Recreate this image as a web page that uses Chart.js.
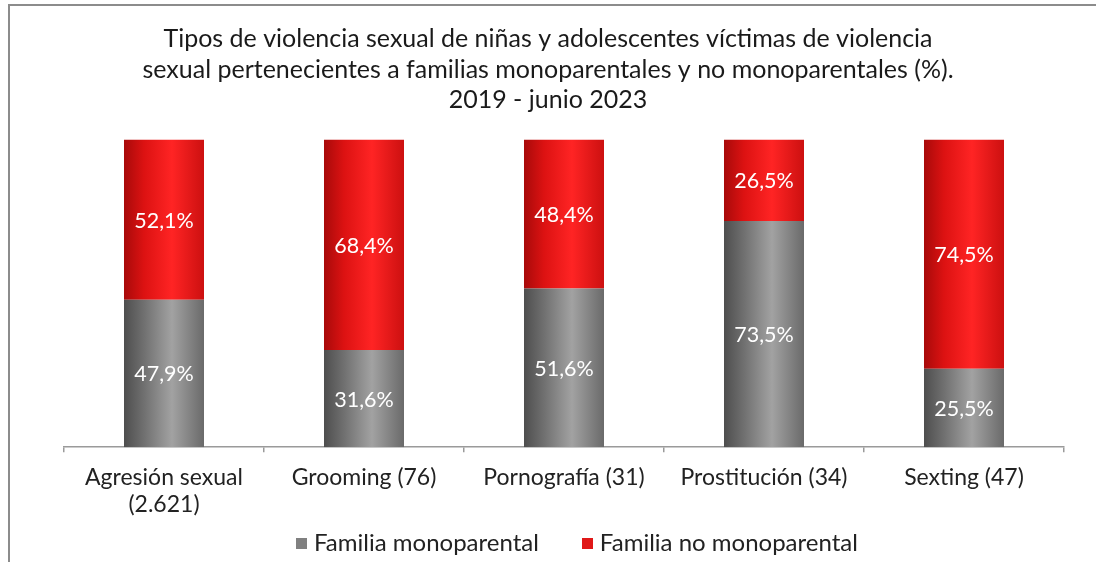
<!DOCTYPE html>
<html>
<head>
<meta charset="utf-8">
<script src="https://cdn.jsdelivr.net/npm/chart.js@4/dist/chart.umd.min.js"></script>
<style>
  html, body { margin: 0; padding: 0; background: #fff; overflow: hidden; }
  #frame { position: absolute; left: 8px; top: 4px; width: 1200px; height: 700px; border: 2px solid #8c8c8c; box-sizing: border-box; }
  #wrap { position: absolute; left: 0; top: 0; width: 1096px; height: 562px; }
  #legend { position: absolute; left: 296px; top: 528px; display: flex; align-items: center;
            font-family: Lato, "Open Sans", sans-serif; font-size: 24px; line-height: 28px; color: #222; }
  #legend .item { display: flex; align-items: center; margin-right: 43px; }
  #legend .box { width: 11px; height: 11px; margin-right: 7px; margin-top: 2px; }
</style>
</head>
<body>
<div id="frame"></div>
<div id="wrap"><canvas id="chart" width="1096" height="562"></canvas></div>
<div id="legend"></div>
<script>
// --- Data ---
const categories = [
    ['Agresión sexual', '(2.621)'],
    'Grooming (76)',
    'Pornografía (31)',
    'Prostitución (34)',
    'Sexting (47)'
];
const monoparental = [47.9, 31.6, 51.6, 73.5, 25.5];
const noMonoparental = [52.1, 68.4, 48.4, 26.5, 74.5];
const titleLines = [
    'Tipos de violencia sexual de niñas y adolescentes víctimas de violencia',
    'sexual pertenecientes a familias monoparentales y no monoparentales (%).',
    '2019 - junio 2023'
];

const FONT = 'Lato, "Open Sans", sans-serif';

// horizontal "cylinder" shading for each bar, placed via the x scale
function barShade(stops, flat) {
    return function (ctx) {
        const chart = ctx.chart;
        if (ctx.type !== 'data' || !chart.chartArea) return flat;
        const xs = chart.scales.x;
        const xc = xs.getPixelForValue(ctx.dataIndex);
        const half = xs.width / categories.length * 0.4 / 2;
        const g = chart.ctx.createLinearGradient(xc - half, 0, xc + half, 0);
        stops.forEach(s => g.addColorStop(s[0], s[1]));
        return g;
    };
}

const grayStops = [[0, '#4e4e4e'], [0.25, '#707070'], [0.6, '#a2a2a2'], [1, '#6a6a6a']];
const redStops = [[0, '#a80a0a'], [0.25, '#dc1212'], [0.6, '#ff2424'], [1, '#cc1010']];
const legendColors = ['#808080', '#e01818'];

// value labels in the middle of each segment
const segmentLabels = {
    id: 'segmentLabels',
    afterDatasetsDraw(chart) {
        const ctx = chart.ctx;
        ctx.save();
        ctx.font = '21.5px ' + FONT;
        ctx.fillStyle = '#ffffff';
        ctx.textAlign = 'center';
        ctx.textBaseline = 'middle';
        chart.data.datasets.forEach((ds, i) => {
            const meta = chart.getDatasetMeta(i);
            meta.data.forEach((bar, j) => {
                const p = bar.getProps(['x', 'y', 'base'], true);
                const txt = ds.data[j].toFixed(1).replace('.', ',') + '%';
                ctx.fillText(txt, p.x, (p.y + p.base) / 2 + 1);
            });
        });
        ctx.restore();
    }
};

const chart = new Chart(document.getElementById('chart').getContext('2d'), {
    type: 'bar',
    data: {
        labels: categories,
        datasets: [{
            label: 'Familia monoparental',
            data: monoparental,
            backgroundColor: barShade(grayStops, '#808080'),
            categoryPercentage: 1,
            barPercentage: 0.4
        }, {
            label: 'Familia no monoparental',
            data: noMonoparental,
            backgroundColor: barShade(redStops, '#e01818'),
            categoryPercentage: 1,
            barPercentage: 0.4
        }]
    },
    options: {
        responsive: false,
        animation: false,
        layout: { padding: { left: 32, right: 32, top: 0, bottom: 32 } },
        plugins: {
            title: {
                display: true,
                text: titleLines,
                color: '#1a1a1a',
                font: { family: FONT, size: 25, weight: 'normal', lineHeight: 1.22 },
                padding: { top: 24, bottom: 24 }
            },
            legend: { display: false },
            tooltip: { enabled: false }
        },
        scales: {
            x: {
                stacked: true,
                grid: { offset: true, drawOnChartArea: false, drawTicks: true, tickLength: 5, color: '#9a9a9a', lineWidth: 1.5 },
                border: { display: true, color: '#9a9a9a', width: 1.5 },
                ticks: { color: '#222', font: { family: FONT, size: 23, lineHeight: 1.17 }, padding: 12, maxRotation: 0 }
            },
            y: {
                stacked: true,
                min: 0,
                max: 100,
                grid: { display: false },
                border: { display: false },
                ticks: { display: false },
                afterFit(scale) { scale.width = 32; }
            }
        }
    },
    plugins: [segmentLabels]
});

// --- HTML legend built from the datasets ---
const legendEl = document.getElementById('legend');
chart.data.datasets.forEach((ds, i) => {
    const item = document.createElement('div');
    item.className = 'item';
    const box = document.createElement('span');
    box.className = 'box';
    box.style.background = legendColors[i];
    const label = document.createElement('span');
    label.textContent = ds.label;
    item.appendChild(box);
    item.appendChild(label);
    legendEl.appendChild(item);
});
</script>
</body>
</html>
